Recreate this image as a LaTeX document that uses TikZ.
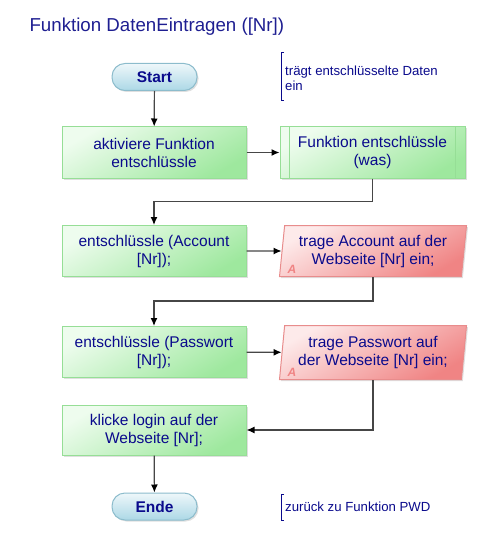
\documentclass[tikz,border=0pt]{standalone}
\usepackage{fontspec}
\setmainfont{Liberation Sans}
\usetikzlibrary{arrows.meta,shapes.geometric,shadows}

\definecolor{navytext}{RGB}{10,10,140}
\definecolor{titleblue}{RGB}{30,30,145}
\definecolor{greenlight}{RGB}{238,252,238}
\definecolor{greendark}{RGB}{158,232,158}
\definecolor{greenborder}{RGB}{150,222,150}
\definecolor{redlight}{RGB}{253,234,234}
\definecolor{reddark}{RGB}{240,132,132}
\definecolor{redborder}{RGB}{232,140,140}
\definecolor{bluelight}{RGB}{238,247,250}
\definecolor{bluedark}{RGB}{172,216,230}
\definecolor{blueborder}{RGB}{140,188,204}
\definecolor{linegray}{RGB}{70,70,70}

\tikzset{
	boxtext/.style={text=navytext, font=\fontsize{15.5}{18}\selectfont, align=center},
	shade/.style={drop shadow={shadow xshift=1.5pt, shadow yshift=-1.5pt, opacity=0.25}},
	stepbox/.style={boxtext, shade, draw=greenborder, line width=1pt, top color=greenlight, bottom color=greendark, shading angle=30, minimum width=184pt, minimum height=51pt, inner sep=0pt},
	iobox/.style={boxtext, shade, draw=redborder, line width=1pt, top color=redlight, bottom color=reddark, shading angle=30, trapezium, trapezium left angle=81, trapezium right angle=99, trapezium stretches body, minimum width=187pt, minimum height=51pt, inner sep=0pt},
	terminal/.style={shade, draw=blueborder, line width=1pt, top color=bluelight, bottom color=bluedark, rounded corners=13pt, minimum width=85pt, minimum height=27pt, inner sep=0pt, text=navytext, font=\fontsize{15.5}{18}\selectfont\bfseries},
	remark/.style={text=navytext, font=\fontsize{13.2}{15}\selectfont, align=left, inner sep=0pt},
	bracket/.style={draw=navytext, line width=1pt},
	amark/.style={text=reddark, font=\fontsize{12}{12}\selectfont\itshape\bfseries, inner sep=0pt},
	flow/.style={draw=linegray, line width=1.2pt, -{Latex[length=8pt,width=7pt,color=black]}}
}

\begin{document}
\begin{tikzpicture}[x=1pt, y=-1pt]
		\useasboundingbox (0,0) rectangle (494,556);
		\node[anchor=west, text=titleblue, font=\fontsize{18.7}{22}\selectfont] (title) at (26,27) {Funktion DatenEintragen ([Nr])};

		% Ablauf
		\node[terminal] (start) at (154.5,77) {Start};
		\node[stepbox] (akt) at (154,152.5) {aktiviere Funktion\\entschlüssle};
		\node[stepbox, minimum width=185pt] (fkt) at (372.5,152.5) {Funktion entschlüssle\\(was)};
		\node[stepbox] (entacc) at (154,251) {entschlüssle (Account\\{[Nr]});};
		\node[iobox] (acc) at (373,251) {trage Account auf der\\Webseite [Nr] ein;};
		\node[stepbox] (entpw) at (154,352) {entschlüssle (Passwort\\{[Nr]});};
		\node[iobox, minimum height=54pt] (pw) at (373,352.5) {trage Passwort auf\\der Webseite [Nr] ein;};
		\node[stepbox, minimum height=50pt] (login) at (154,430) {klicke login auf der\\Webseite [Nr];};
		\node[terminal] (ende) at (154.5,506.5) {Ende};

		% Unterprogramm-Linien und Markierungen
		\draw[greenborder, line width=1pt] ([xshift=10pt]fkt.north west) -- ([xshift=10pt]fkt.south west);
		\draw[greenborder, line width=1pt] ([xshift=-10pt]fkt.north east) -- ([xshift=-10pt]fkt.south east);
		\node[amark] (accmark) at ([xshift=13pt,yshift=8pt]acc.bottom left corner) {A};
		\node[amark] (pwmark) at ([xshift=13pt,yshift=8pt]pw.bottom left corner) {A};

		% Kommentare
		\node[remark, anchor=west] (cmtstart) at (285,78) {trägt entschlüsselte Daten\\ein};
		\draw[bracket] ([xshift=-1pt,yshift=25pt]cmtstart.west) -- ++(-3,0) -- ++(0,48) -- ++(3,0);
		\node[remark, anchor=west] (cmtende) at (285,507) {zurück zu Funktion PWD};
		\draw[bracket] ([xshift=-1pt,yshift=13pt]cmtende.west) -- ++(-3,0) -- ++(0,26) -- ++(3,0);

		% Verbindungen
		\draw[flow] (start) -- (akt);
		\draw[flow] (akt) -- (fkt);
		\draw[flow] (fkt.south) -- ++(0,23) -| (entacc.north);
		\draw[flow] (entacc) -- (acc);
		\draw[flow] (acc.south) -- ++(0,24) -| (entpw.north);
		\draw[flow] (entpw) -- (pw);
		\draw[flow] (pw.south) |- (login.east);
		\draw[flow] (login) -- (ende);
	\end{tikzpicture}
\end{document}
